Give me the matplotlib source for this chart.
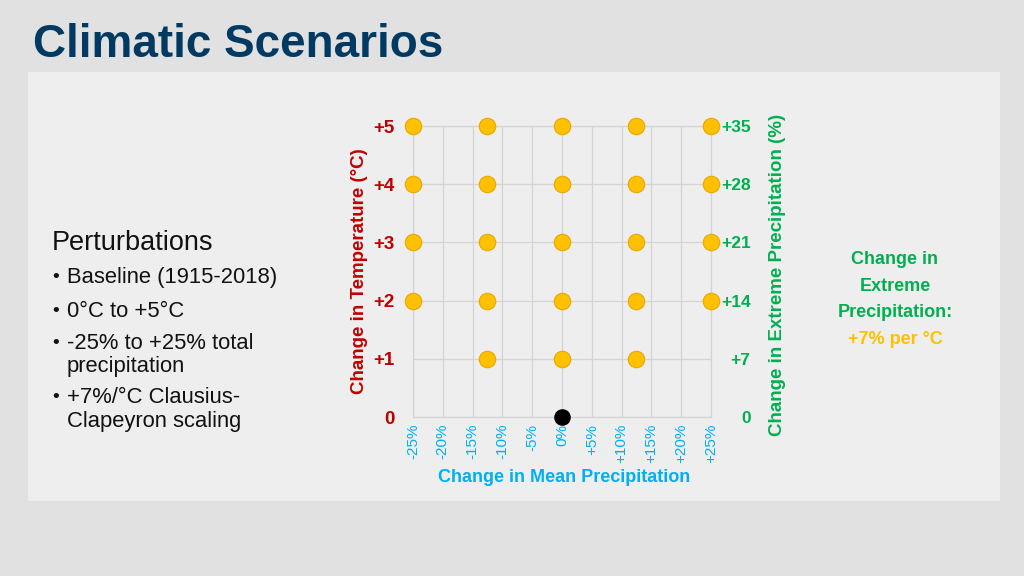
import numpy as np
import matplotlib.pyplot as plt
from matplotlib.patches import Rectangle

# scenario grid: change in mean precipitation (%) vs change in temperature (C)
precip_change = [-25, -12.5, 0, 12.5, 25,
                 -25, -12.5, 0, 12.5, 25,
                 -25, -12.5, 0, 12.5, 25,
                 -25, -12.5, 0, 12.5, 25,
                 -12.5, 0, 12.5]
temp_change = [5, 5, 5, 5, 5,
               4, 4, 4, 4, 4,
               3, 3, 3, 3, 3,
               2, 2, 2, 2, 2,
               1, 1, 1]
baseline_precip = [0]
baseline_temp = [0]

x_ticks = [-25, -20, -15, -10, -5, 0, 5, 10, 15, 20, 25]
x_labels = ['-25%', '-20%', '-15%', '-10%', '-5%', '0%', '+5%', '+10%', '+15%', '+20%', '+25%']
t_ticks = [0, 1, 2, 3, 4, 5]
t_labels = ['0', '+1', '+2', '+3', '+4', '+5']
ext_ticks = [0, 7, 14, 21, 28, 35]
ext_labels = ['0', '+7', '+14', '+21', '+28', '+35']

font = ['Liberation Sans', 'DejaVu Sans']

red = '#c00000'
green = '#00b050'
blue = '#00b0f0'
gold = '#ffc000'
navy = '#003a63'

fig = plt.figure(figsize=(10.24, 5.76), dpi=100)
fig.patch.set_facecolor('#e1e1e1')
fig.patches.append(Rectangle((0.027, 0.13), 0.95, 0.745, transform=fig.transFigure,
                             facecolor='#eeeeee', edgecolor='none', zorder=-10))

fig.text(0.032, 0.922, 'Climatic Scenarios', color=navy, fontsize=33, fontweight='bold',
         family=font, va='center', ha='left')

# left side bullet text
fig.text(0.051, 0.578, 'Perturbations', fontsize=19.5, family=font, va='center', color='#111111')
bullets = [(0.519, 'Baseline (1915-2018)'),
           (0.46, '0°C to +5°C'),
           (0.404, '-25% to +25% total'),
           (0.364, 'precipitation'),
           (0.31, '+7%/°C Clausius-'),
           (0.269, 'Clapeyron scaling')]
for yy, txt in bullets:
    fig.text(0.065, yy, txt, fontsize=15.8, family=font, va='center', color='#111111')
for yy in [0.519, 0.46, 0.404, 0.31]:
    fig.text(0.051, yy, '•', fontsize=14, family=font, va='center', color='#111111')

# right side note
note = [(0.549, 'Change in', green), (0.502, 'Extreme', green),
        (0.457, 'Precipitation:', green), (0.41, '+7% per °C', gold)]
for yy, txt, c in note:
    fig.text(0.874, yy, txt, fontsize=13, fontweight='bold', family=font,
             ha='center', va='center', color=c)

ax = fig.add_axes([0.4033, 0.276, 0.291, 0.505])
ax.set_facecolor('none')
ax.set_xlim(-25, 25)
ax.set_ylim(0, 5)
ax.set_xticks(x_ticks)
ax.set_xticklabels(x_labels, rotation=90, color=blue, fontsize=11, family=font)
ax.set_yticks(t_ticks)
ax.set_yticklabels(t_labels, color=red, fontsize=13.5, fontweight='bold', family=font)
ax.tick_params(axis='both', length=0)
ax.tick_params(axis='y', pad=13)
ax.tick_params(axis='x', pad=5)
ax.grid(True, color='#d4d4d4', linewidth=0.9)
for s in ax.spines.values():
    s.set_color('#d4d4d4')
    s.set_linewidth(0.9)

ax.set_ylabel('Change in Temperature (°C)', color=red, fontsize=13.5, fontweight='bold', family=font)
ax.yaxis.set_label_coords(-0.15, 0.5)
ax.set_xlabel('Change in Mean Precipitation', color=blue, fontsize=13, fontweight='bold', family=font)
ax.xaxis.set_label_coords(0.507, -0.178)

ax.scatter(precip_change, temp_change, s=140, color=gold, edgecolors='#eaa800',
           linewidths=0.8, clip_on=False, zorder=3)
ax.scatter(baseline_precip, baseline_temp, s=120, color='black', clip_on=False, zorder=3)

ax2 = ax.twinx()
ax2.set_ylim(0, 35)
ax2.set_yticks(ext_ticks)
ax2.set_yticklabels(ext_labels, color=green, fontsize=12.5, fontweight='bold', family=font)
for lab in ax2.get_yticklabels():
    lab.set_horizontalalignment('right')
ax2.tick_params(axis='y', length=0, pad=28.5)
for s in ax2.spines.values():
    s.set_visible(False)
ax2.set_ylabel('Change in Extreme Precipitation (%)', color=green, fontsize=13.5,
               fontweight='bold', family=font, rotation=90)
ax2.yaxis.set_label_coords(1.195, 0.49)

fig.savefig('out.png', dpi=100, facecolor=fig.get_facecolor())
